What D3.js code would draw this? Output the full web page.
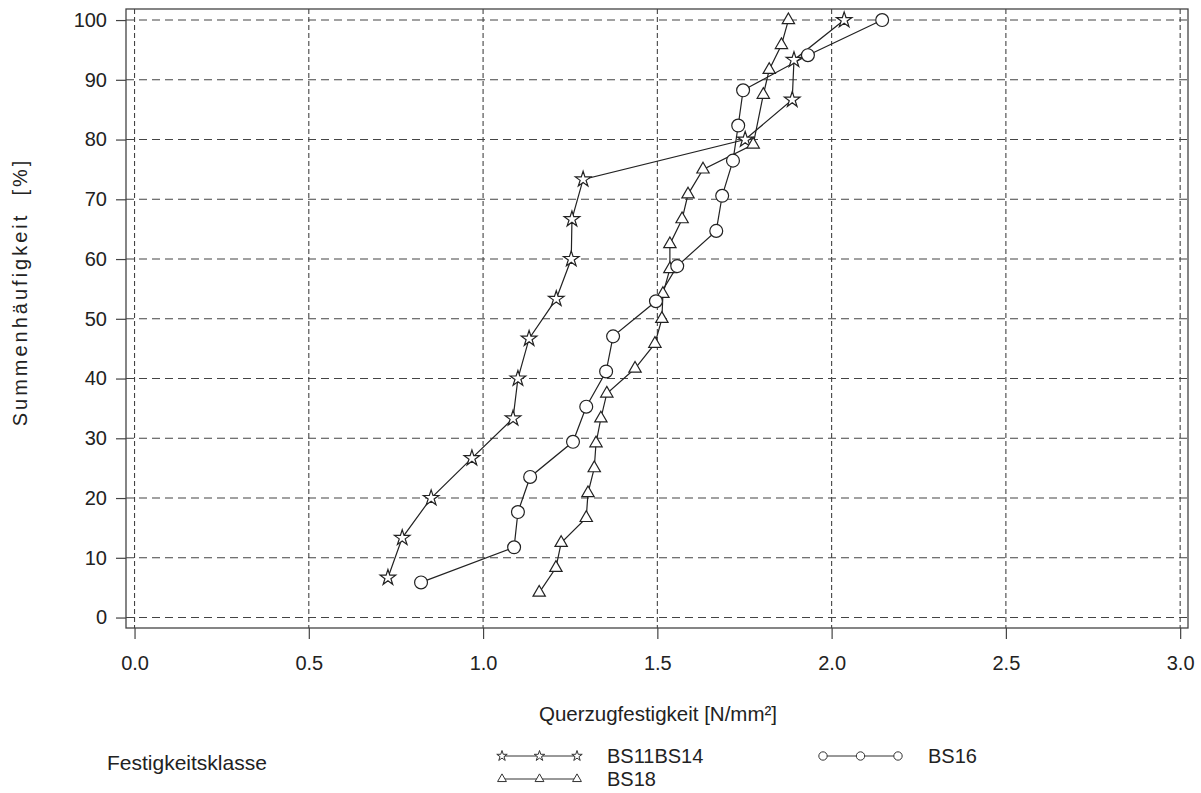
<!DOCTYPE html>
<html>
<head>
<meta charset="utf-8">
<script src="https://cdn.jsdelivr.net/npm/d3@7"></script>
<style>
  html, body { margin: 0; padding: 0; background: #ffffff; }
  svg { display: block; }
  text { font-family: "Liberation Sans", Arial, Helvetica, sans-serif; fill: #222; }
</style>
</head>
<body>
<svg id="chart" width="1201" height="793"></svg>
<script>
// ---------- data ----------
const xTicks = [0.0, 0.5, 1.0, 1.5, 2.0, 2.5, 3.0];
const yTicks = [0, 10, 20, 30, 40, 50, 60, 70, 80, 90, 100];

const seriesNames = ["BS11BS14", "BS18", "BS16"];

const bs1114X = [0.727, 0.768, 0.851, 0.968, 1.086, 1.100, 1.132, 1.210, 1.253, 1.255, 1.287, 1.752, 1.887, 1.892, 2.036];
const bs1114Y = [6.67, 13.33, 20.0, 26.67, 33.33, 40.0, 46.67, 53.33, 60.0, 66.67, 73.33, 80.0, 86.67, 93.33, 100.0];

const bs18X = [1.161, 1.209, 1.224, 1.296, 1.301, 1.319, 1.324, 1.338, 1.355, 1.436, 1.493, 1.513, 1.516, 1.536, 1.536, 1.571, 1.588, 1.631, 1.775, 1.804, 1.821, 1.856, 1.876];
const bs18Y = [4.17, 8.33, 12.5, 16.67, 20.83, 25.0, 29.17, 33.33, 37.5, 41.67, 45.83, 50.0, 54.17, 58.33, 62.5, 66.67, 70.83, 75.0, 79.17, 87.5, 91.67, 95.83, 100.0];

const bs16X = [0.822, 1.089, 1.100, 1.135, 1.258, 1.296, 1.353, 1.373, 1.496, 1.557, 1.669, 1.686, 1.717, 1.732, 1.746, 1.932, 2.145];
const bs16Y = [5.88, 11.76, 17.65, 23.53, 29.41, 35.29, 41.18, 47.06, 52.94, 58.82, 64.71, 70.59, 76.47, 82.35, 88.24, 94.12, 100.0];

const xTitle = "Querzugfestigkeit [N/mm²]";
const yTitle = "Summenhäufigkeit  [%]";
const legendTitle = "Festigkeitsklasse";

// ---------- layout ----------
const svg = d3.select("#chart");
const frame = { left: 126, top: 9, right: 1188, bottom: 628 };
const W = frame.right - frame.left, H = frame.bottom - frame.top;

const x = d3.scaleLinear().domain([-0.0245, 3.0225]).range([0, W]);
const y = d3.scaleLinear().domain([-1.75, 101.85]).range([H, 0]);

const g = svg.append("g").attr("transform", `translate(${frame.left},${frame.top})`);

// grid
g.append("g").selectAll("line").data(yTicks).join("line")
  .attr("x1", 0).attr("x2", W)
  .attr("y1", d => y(d)).attr("y2", d => y(d))
  .attr("stroke", "#444").attr("stroke-width", 1.1).attr("stroke-dasharray", "8,5");
g.append("g").selectAll("line").data(xTicks).join("line")
  .attr("y1", 0).attr("y2", H)
  .attr("x1", d => x(d)).attr("x2", d => x(d))
  .attr("stroke", "#444").attr("stroke-width", 1.1).attr("stroke-dasharray", "5,3");

// frame
g.append("rect").attr("x", 0).attr("y", 0).attr("width", W).attr("height", H)
  .attr("fill", "none").attr("stroke", "#444").attr("stroke-width", 1.3);

// axes
const yAxis = g.append("g").call(d3.axisLeft(y).tickValues(yTicks).tickSize(10).tickPadding(9).tickFormat(d3.format("d")));
const xAxis = g.append("g").attr("transform", `translate(0,${H})`)
  .call(d3.axisBottom(x).tickValues(xTicks).tickSize(11).tickPadding(17).tickFormat(d3.format(".1f")));
[yAxis, xAxis].forEach(a => {
  a.select(".domain").remove();
  a.selectAll(".tick line").attr("stroke", "#444").attr("stroke-width", 1.2);
  a.selectAll(".tick text").attr("font-size", 20).attr("fill", "#222")
    .attr("font-family", '"Liberation Sans", Arial, sans-serif');
});

// titles
svg.append("text").attr("x", 658).attr("y", 721).attr("text-anchor", "middle")
  .attr("font-size", 20.5).text(xTitle);
svg.append("text").attr("transform", "translate(27,292) rotate(-90)").attr("text-anchor", "middle")
  .attr("xml:space", "preserve")
  .attr("font-size", 20).attr("letter-spacing", 3).text(yTitle);

// series
const sym = {
  star: d3.symbol().type(d3.symbolStar).size(75),
  tri: d3.symbol().type(d3.symbolTriangle).size(66),
  circ: d3.symbol().type(d3.symbolCircle).size(130)
};
const series = [
  { name: seriesNames[0], xs: bs1114X, ys: bs1114Y, s: sym.star },
  { name: seriesNames[1], xs: bs18X, ys: bs18Y, s: sym.tri },
  { name: seriesNames[2], xs: bs16X, ys: bs16Y, s: sym.circ }
];
const line = d3.line().x(d => x(d[0])).y(d => y(d[1]));
series.forEach(se => {
  const pts = se.xs.map((v, i) => [v, se.ys[i]]);
  g.append("path").datum(pts).attr("d", line)
    .attr("fill", "none").attr("stroke", "#222").attr("stroke-width", 1.2);
});
series.forEach(se => {
  const pts = se.xs.map((v, i) => [v, se.ys[i]]);
  g.append("g").selectAll("path").data(pts).join("path")
    .attr("transform", d => `translate(${x(d[0])},${y(d[1])})`)
    .attr("d", se.s)
    .attr("fill", "#fff").attr("stroke", "#222").attr("stroke-width", 1.2);
});

// legend
svg.append("text").attr("x", 107).attr("y", 770).attr("font-size", 21).text(legendTitle);
const legendItems = [
  { name: seriesNames[0], x0: 502, yy: 756, s: d3.symbol().type(d3.symbolStar).size(34) },
  { name: seriesNames[1], x0: 502, yy: 779, s: d3.symbol().type(d3.symbolTriangle).size(34) },
  { name: seriesNames[2], x0: 823, yy: 756, s: d3.symbol().type(d3.symbolCircle).size(55) }
];
const legendStep = 37.5;
legendItems.forEach(it => {
  const lg = svg.append("g");
  lg.append("line").attr("x1", it.x0).attr("x2", it.x0 + 2 * legendStep)
    .attr("y1", it.yy).attr("y2", it.yy).attr("stroke", "#333").attr("stroke-width", 1);
  lg.selectAll("path").data([0, 1, 2]).join("path")
    .attr("transform", k => `translate(${it.x0 + k * legendStep},${it.yy})`)
    .attr("d", it.s).attr("fill", "#fff").attr("stroke", "#333").attr("stroke-width", 1);
  lg.append("text").attr("x", it.x0 + 2 * legendStep + 30).attr("y", it.yy + 7)
    .attr("font-size", 20).text(it.name);
});
</script>
</body>
</html>
